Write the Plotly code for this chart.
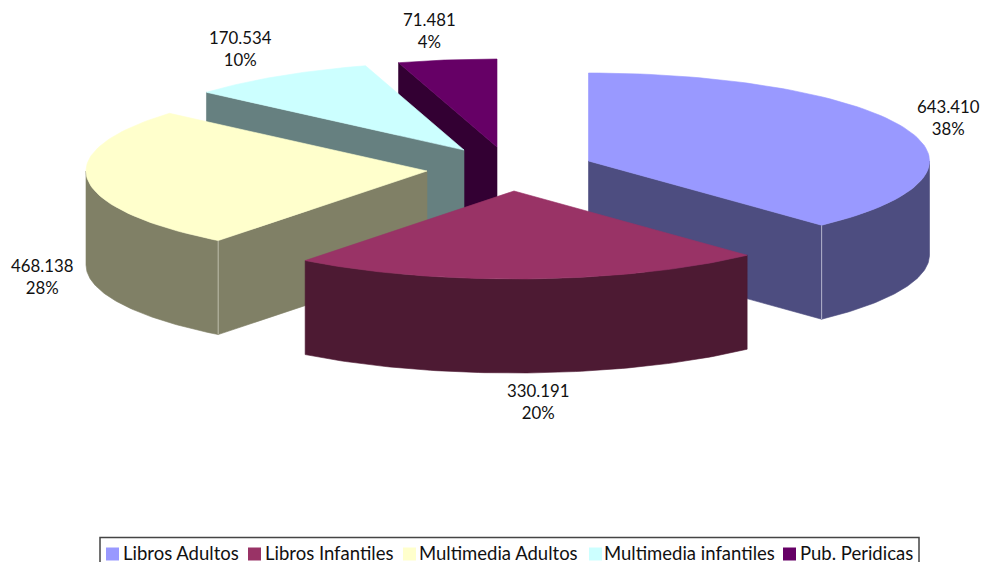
import numpy as np
import plotly.graph_objects as go

categories = ["Libros Adultos", "Libros Infantiles", "Multimedia Adultos", "Multimedia infantiles", "Pub. Peridicas"]
values = [643410, 330191, 468138, 170534, 71481]
percent_labels = ["38%", "20%", "28%", "10%", "4%"]
colors = ["#9999FF", "#993366", "#FFFFCC", "#CCFFFF", "#660066"]
side_colors = ["#4D4D80", "#4D1A33", "#808066", "#668080", "#330033"]
seam_colors = ["#B4B4CC", None, "#BDBDAA", None, None]

# Drawing set-up of the tilted, exploded pie (not data)
RX, RY, DEPTH = 341, 88, 94
slice_centres = [(588.5, 161), (514, 191), (427, 171), (464, 150), (497, 147)]
view_nudge_deg = [0, -0.7, 9.6, 2.7, -1.5, 0]   # perspective shift of the slice boundaries
label_positions = [(948.5, 117), (538, 401), (42, 276), (240, 48), (429, 30.5)]
draw_order = [4, 3, 0, 2, 1]
FONT = "Lato, Carlito, sans-serif"

# Legend layout (page pixels)
legend_box = (100, 537.5, 919, 580)
legend_swatch_x = [106, 248, 403, 589, 783]
legend_text_x = [121, 263, 417, 602, 798]
SWATCH, SWATCH_TOP, LEGEND_TEXT_Y = 13, 547.5, 553

total = sum(values)
bounds = np.concatenate([[0], np.cumsum(values) / total * 360]) + np.array(view_nudge_deg)


def rim(i, a0, a1, n=80):
    t = np.radians(np.linspace(a0, a1, n))
    cx, cy = slice_centres[i]
    return cx + RX * np.sin(t), cy - RY * np.cos(t)


def poly(x, y, color, name):
    return go.Scatter(
        x=list(x) + [x[0]], y=list(y) + [y[0]], mode="lines", fill="toself",
        fillcolor=color, line=dict(color=color, width=0.6),
        hoverinfo="skip", showlegend=False, name=name,
    )


def cut_face(i, angle):
    cx, cy = slice_centres[i]
    ex, ey = rim(i, angle, angle, 1)
    return poly([cx, ex[0], ex[0], cx], [cy, ey[0], ey[0] + DEPTH, cy + DEPTH], side_colors[i], categories[i])


def seam(i, angle):
    ex, ey = rim(i, angle, angle, 1)
    return go.Scatter(x=[ex[0], ex[0]], y=[ey[0], ey[0] + DEPTH], mode="lines",
                      line=dict(color=seam_colors[i], width=1), hoverinfo="skip",
                      showlegend=False, name=categories[i])


fig = go.Figure()
for i in draw_order:
    a0, a1 = bounds[i], bounds[i + 1]
    # cut faces that turn towards the viewer
    if a0 > 180:
        fig.add_trace(cut_face(i, a0))
    if a1 < 180:
        fig.add_trace(cut_face(i, a1))
    # outer wall: the part of the rim in the lower half of the ellipse
    w0, w1 = max(a0, 90), min(a1, 270)
    if w1 > w0:
        rx, ry = rim(i, w0, w1)
        fig.add_trace(poly(np.r_[rx, rx[::-1]], np.r_[ry, ry[::-1] + DEPTH], side_colors[i], categories[i]))
    if seam_colors[i]:
        fig.add_trace(seam(i, a0 if a0 > 180 else a1))
    # top face
    rx, ry = rim(i, a0, a1)
    cx, cy = slice_centres[i]
    fig.add_trace(poly(np.r_[cx, rx], np.r_[cy, ry], colors[i], categories[i]))

# data labels
for v, p, (lx, ly) in zip(values, percent_labels, label_positions):
    fig.add_annotation(
        x=lx, y=ly, text=f"{v:,}".replace(",", ".") + "<br>" + p, showarrow=False,
        font=dict(family=FONT, size=16.8, color="#111111"), align="center",
    )

# legend
x0, y0, x1, y1 = legend_box
fig.add_shape(type="rect", x0=x0, y0=y0, x1=x1, y1=y1, line=dict(color="#444444", width=1.5), fillcolor="white")
for name, color, sx, tx in zip(categories, colors, legend_swatch_x, legend_text_x):
    fig.add_shape(type="rect", x0=sx, x1=sx + SWATCH, y0=SWATCH_TOP, y1=SWATCH_TOP + SWATCH,
                  fillcolor=color, line=dict(width=0))
    fig.add_annotation(x=tx, y=LEGEND_TEXT_Y, text=name, showarrow=False, xanchor="left",
                       font=dict(family=FONT, size=18.5, color="#111111"))

fig.update_layout(
    width=981, height=562, margin=dict(l=0, r=0, t=0, b=0),
    paper_bgcolor="white", plot_bgcolor="white",
    xaxis=dict(range=[0, 981], visible=False, fixedrange=True),
    yaxis=dict(range=[562, 0], visible=False, fixedrange=True),
    showlegend=False,
)
fig.write_html("out.html", config={"displayModeBar": False},
               post_script="document.body.style.margin='0';document.body.style.overflow='hidden';")
